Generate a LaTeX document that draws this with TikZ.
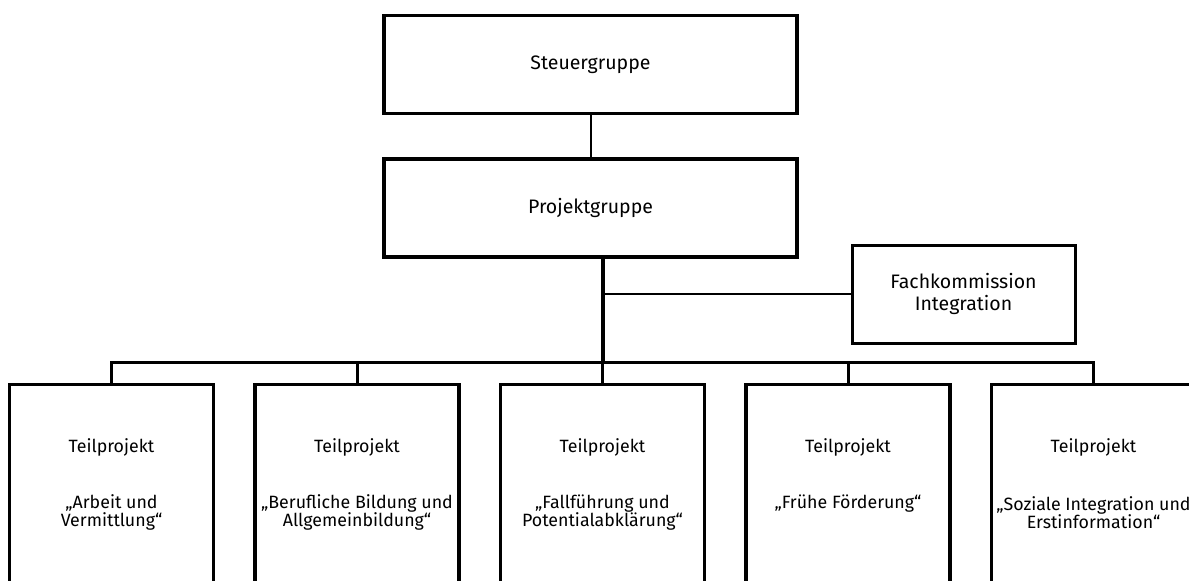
\documentclass[tikz,border=0pt]{standalone}
\usepackage{fontspec}
\setmainfont{Fira Sans}
\usetikzlibrary{calc}
\begin{document}
\begin{tikzpicture}[x=1pt,y=-1pt,
  bigbox/.style={draw,line width=3.5pt,minimum width=413pt,minimum height=98pt,inner sep=0pt,font=\fontsize{19.5}{22}\selectfont},
  fachbox/.style={draw,line width=3pt,minimum width=223pt,minimum height=98pt,inner sep=0pt,align=center,font=\fontsize{19.5}{21.5}\selectfont},
  tbox/.style={draw,line width=3.5pt,anchor=north,minimum width=204pt,minimum height=240pt,inner sep=0pt},
  ttext/.style={align=center,font=\fontsize{17.8}{18.5}\selectfont,inner sep=0pt},
  thinline/.style={line width=2pt},
  trunk/.style={line width=3.5pt},
  busline/.style={line width=3pt}]
\useasboundingbox (0,0) rectangle (1189,581);
\node[bigbox] (steuer) at (590.5,64.5) {Steuergruppe};
\node[bigbox] (projekt) at (590.5,208) {Projektgruppe};
\node[fachbox] (fach) at (963.5,294) {Fachkommission\\Integration};
\coordinate (trunktop) at (603,257);
\coordinate (branch) at (603,294);
\coordinate (bus) at (603,362.5);
\node[tbox] (t1) at (111.5,382.5) {};
\node[tbox] (t2) at (357,382.5) {};
\node[tbox] (t3) at (602.5,382.5) {};
\node[tbox] (t4) at (848,382.5) {};
\node[tbox] (t5) at (1093.5,382.5) {};
\draw[thinline] (steuer.south -| 591,0) -- (projekt.north -| 591,0);
\draw[trunk] (trunktop) -- (bus);
\draw[thinline,line width=2.5pt] (branch) -- (fach.west |- branch);
\draw[busline] (t1.north) -- (t1.north |- bus) -- (t5.north |- bus) -- (t5.north);
\foreach \n in {t2,t3,t4}{\draw[busline] (\n.north) -- (\n.north |- bus);}
\foreach \n in {t1,t2,t3,t4,t5}{\node[ttext] at ($(\n.north)+(0,65)$) {Teilprojekt};}
\node[ttext] at ($(t1.north)+(0,130)$) {„Arbeit und\\Vermittlung“};
\node[ttext] at ($(t2.north)+(0,130)$) {„Berufliche Bildung und\\Allgemeinbildung“};
\node[ttext] at ($(t3.north)+(0,130)$) {„Fallführung und\\Potentialabklärung“};
\node[ttext] at ($(t4.north)+(0,121)$) {„Frühe Förderung“};
\node[ttext] at ($(t5.north)+(0,130)$) {„Soziale Integration und\\Erstinformation“};
\end{tikzpicture}
\end{document}
